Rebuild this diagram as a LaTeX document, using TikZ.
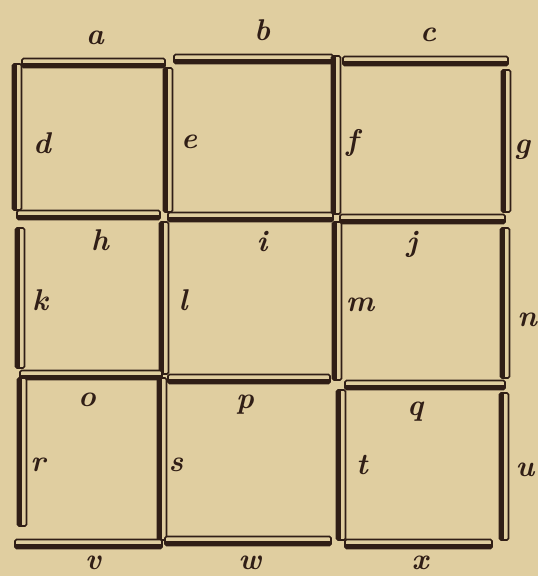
\documentclass[tikz,border=0pt]{standalone}
\usepackage{xcolor}
\definecolor{paper}{RGB}{224,206,160}
\definecolor{ink}{RGB}{48,30,22}
\tikzset{
  matchbody/.style={draw=ink, line width=1.6pt, fill=paper, rounded corners=1.5pt},
  matchink/.style={draw=ink, line width=3.5pt},
  lbl/.style={font=\fontsize{30}{30}\selectfont\bfseries\itshape, text=ink, inner sep=0pt}
}
\newcommand\hmatch[3]{%
  \draw[matchbody] (#1,#3-4.5) rectangle (#2,#3+4.5);
  \draw[matchink] (#1+1,#3+2) -- (#2-1,#3+2);}
\newcommand\vmatch[3]{%
  \draw[matchbody] (#1-4.5,#2) rectangle (#1+4.5,#3);
  \draw[matchink] (#1-2,#2+1) -- (#1-2,#3-1);}
\begin{document}
\begin{tikzpicture}[x=1pt,y=-1pt]
\fill[paper] (0,0) rectangle (538,576);
\useasboundingbox (0,0) rectangle (538,576);
% top row
\hmatch{22}{165}{63}
\hmatch{174}{333}{59}
\hmatch{343}{508}{61}
\vmatch{17}{64}{210}
\vmatch{168}{68}{212}
\vmatch{336}{56}{214}
\vmatch{506}{70}{212}
% second row
\hmatch{17}{160}{215}
\hmatch{168}{333}{217}
\hmatch{340}{505}{219}
\vmatch{20}{228}{368}
\vmatch{164}{222}{374}
\vmatch{337}{222}{380}
\vmatch{505}{228}{378}
% third row
\hmatch{20}{162}{375}
\hmatch{168}{330}{379}
\hmatch{345}{505}{385}
\vmatch{22}{378}{526}
\vmatch{162}{378}{540}
\vmatch{341}{390}{540}
\vmatch{504}{393}{540}
\hmatch{15}{162}{544}
\hmatch{165}{331}{541}
\hmatch{345}{492}{544}
% labels
\node[lbl] (la) at (95,38) {a};
\node[lbl] (lb) at (262,30) {b};
\node[lbl] (lc) at (428,35) {c};
\node[lbl] (ld) at (42,143) {d};
\node[lbl] (le) at (189,142) {e};
\node[lbl] (lf) at (352,143) {f};
\node[lbl] (lg) at (522,150) {g};
\node[lbl] (lh) at (100,240) {h};
\node[lbl] (li) at (262,242) {i};
\node[lbl] (lj) at (412,244) {j};
\node[lbl] (lk) at (40,300) {k};
\node[lbl] (ll) at (183,300) {l};
\node[lbl] (lm) at (360,305) {m};
\node[lbl] (ln) at (527,320) {n};
\node[lbl] (lo) at (87,400) {o};
\node[lbl] (lp) at (245,405) {p};
\node[lbl] (lq) at (415,412) {q};
\node[lbl] (lr) at (38,465) {r};
\node[lbl] (ls) at (176,465) {s};
\node[lbl] (lt) at (362,465) {t};
\node[lbl] (lu) at (525,470) {u};
\node[lbl] (lv) at (93,563) {v};
\node[lbl] (lw) at (250,563) {w};
\node[lbl] (lx) at (420,563) {x};
\end{tikzpicture}
\end{document}
